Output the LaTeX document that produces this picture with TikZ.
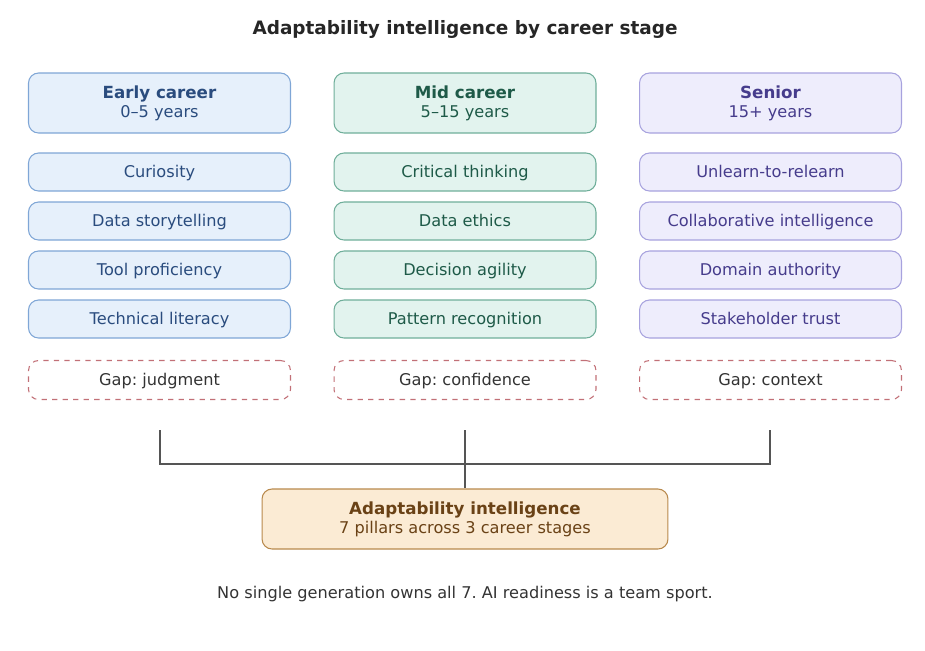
\documentclass[tikz,border=0pt]{standalone}
\usepackage{fontspec}
\setmainfont{DejaVu Sans}
\usetikzlibrary{positioning}

\definecolor{earlyfill}{HTML}{E6F0FB}
\definecolor{earlydraw}{HTML}{7FA6D6}
\definecolor{earlytext}{HTML}{2A4C7E}
\definecolor{midfill}{HTML}{E2F3EE}
\definecolor{middraw}{HTML}{6FAE9A}
\definecolor{midtext}{HTML}{1E5A48}
\definecolor{seniorfill}{HTML}{EEEDFC}
\definecolor{seniordraw}{HTML}{A7A2DE}
\definecolor{seniortext}{HTML}{463C8C}
\definecolor{gapdraw}{HTML}{C27077}
\definecolor{corefill}{HTML}{FBEBD4}
\definecolor{coredraw}{HTML}{B8894C}
\definecolor{coretext}{HTML}{6A4216}
\definecolor{linkgray}{HTML}{555555}

\frenchspacing

\begin{document}
\begin{tikzpicture}[
  x=0.02cm, y=-0.02cm,
  stagebox/.style={rectangle, draw, rounded corners=0.2cm, line width=0.6pt,
                   minimum width=5.24cm, minimum height=1.2cm, align=center,
                   font=\fontsize{9.5}{12}\selectfont},
  pillarbox/.style={rectangle, draw, rounded corners=0.2cm, line width=0.6pt,
                    minimum width=5.24cm, minimum height=0.76cm, text height=1.5ex, text depth=0.4ex,
                    font=\fontsize{9.2}{11}\selectfont},
  early/.style={fill=earlyfill, draw=earlydraw, text=earlytext},
  mid/.style={fill=midfill, draw=middraw, text=midtext},
  senior/.style={fill=seniorfill, draw=seniordraw, text=seniortext},
  gapbox/.style={rectangle, draw=gapdraw, dashed, rounded corners=0.2cm, line width=0.6pt,
                 minimum width=5.24cm, minimum height=0.78cm, text=black!80,
                 text height=1.5ex, text depth=0.4ex, font=\fontsize{9.2}{11}\selectfont},
  corebox/.style={rectangle, draw=coredraw, fill=corefill, text=coretext, rounded corners=0.2cm,
                  line width=0.6pt, minimum width=8.12cm, minimum height=1.2cm, align=center,
                  font=\fontsize{9.5}{12}\selectfont},
  link/.style={draw=linkgray, line width=0.75pt}
]
  \useasboundingbox (0,0) rectangle (925,650);

  \node[font=\fontsize{10.5}{13}\selectfont\bfseries, text=black!85] (title) at (465,29)
    {Adaptability intelligence by career stage};

  % stage headers
  \node[stagebox, early]  (s1) at (159.5,103) {\textbf{Early career}\\[-1pt]{\fontsize{9.2}{11}\selectfont 0--5 years}};
  \node[stagebox, mid]    (s2) at (465,103)   {\textbf{Mid career}\\[-1pt]{\fontsize{9.2}{11}\selectfont 5--15 years}};
  \node[stagebox, senior] (s3) at (770.5,103) {\textbf{Senior}\\[-1pt]{\fontsize{9.2}{11}\selectfont 15+ years}};

  % pillars
  \node[pillarbox, early] (e1) at (159.5,172) {Curiosity};
  \node[pillarbox, early] (e2) at (159.5,221) {Data storytelling};
  \node[pillarbox, early] (e3) at (159.5,270) {Tool proficiency};
  \node[pillarbox, early] (e4) at (159.5,319) {Technical literacy};

  \node[pillarbox, mid] (m1) at (465,172) {Critical thinking};
  \node[pillarbox, mid] (m2) at (465,221) {Data ethics};
  \node[pillarbox, mid] (m3) at (465,270) {Decision agility};
  \node[pillarbox, mid] (m4) at (465,319) {Pattern recognition};

  \node[pillarbox, senior] (r1) at (770.5,172) {Unlearn-to-relearn};
  \node[pillarbox, senior] (r2) at (770.5,221) {Collaborative intelligence};
  \node[pillarbox, senior] (r3) at (770.5,270) {Domain authority};
  \node[pillarbox, senior] (r4) at (770.5,319) {Stakeholder trust};

  % gaps
  \node[gapbox] (g1) at (159.5,380) {Gap: judgment};
  \node[gapbox] (g2) at (465,380)   {Gap: confidence};
  \node[gapbox] (g3) at (770.5,380) {Gap: context};

  % core
  \node[corebox] (core) at (465,519)
    {\textbf{Adaptability intelligence}\\[-1pt]{\fontsize{9.2}{11}\selectfont 7 pillars across 3 career stages}};

  \coordinate (t1) at (160,430);
  \coordinate (t2) at (465,430);
  \coordinate (t3) at (770,430);
  \coordinate (bar) at (465,464);

  \draw[link] (t1) -- (t1 |- bar) -- (t3 |- bar) -- (t3);
  \draw[link] (t2) -- (core.north);

  \node[font=\fontsize{9.2}{11}\selectfont, text=black!80] (note) at (465,594)
    {No single generation owns all 7. AI readiness is a team sport.};
\end{tikzpicture}
\end{document}
